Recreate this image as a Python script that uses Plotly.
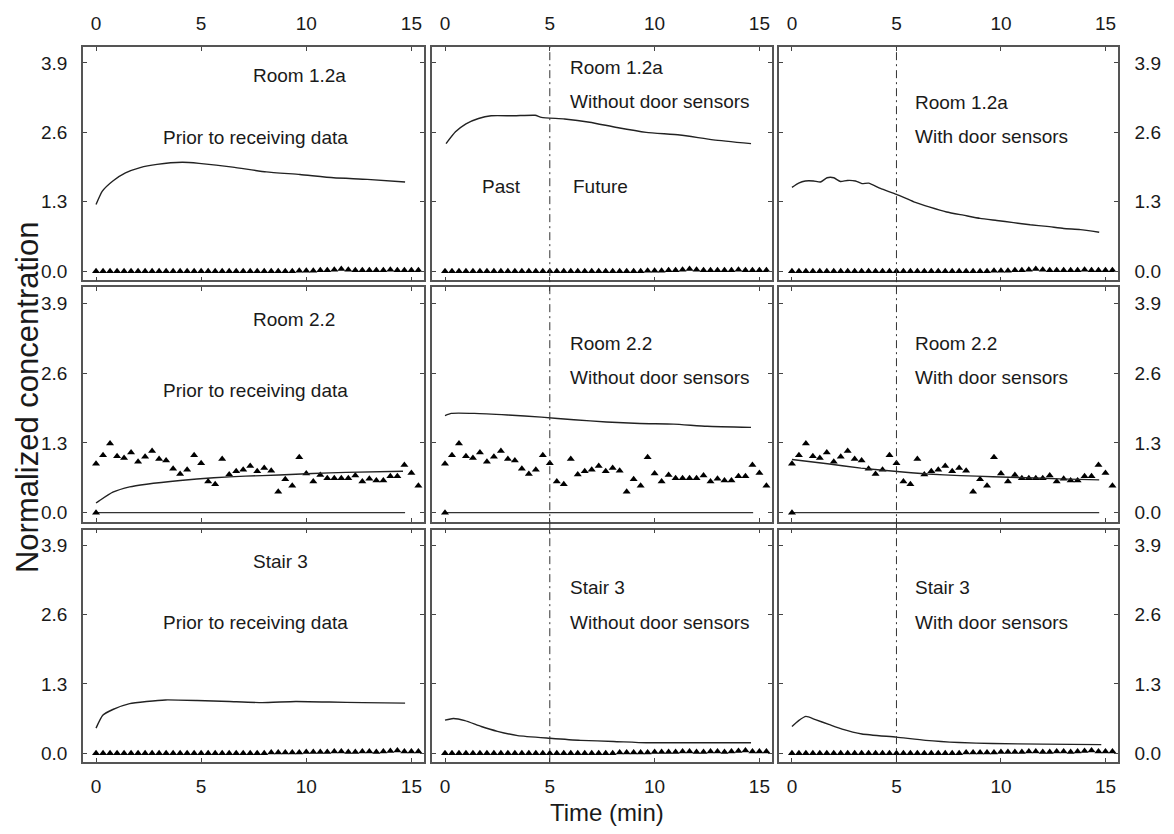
import plotly.graph_objects as go

# ---------------- data ----------------
SAMPLE_STEP = 1.0 / 3.0
N_SAMPLES = 47
SENSOR_T = [round(k * SAMPLE_STEP, 4) for k in range(N_SAMPLES)]

ROOM12A_SENSOR = [0.00, 0.00, 0.00, 0.00, 0.00, 0.00, 0.00, 0.00, 0.00, 0.00,
                  0.00, 0.00, 0.00, 0.00, 0.00, 0.00, 0.00, 0.00, 0.00, 0.00,
                  0.00, 0.00, 0.00, 0.00, 0.00, 0.00, 0.00, 0.00, 0.00, 0.01,
                  0.01, 0.01, 0.02, 0.02, 0.03, 0.04, 0.03, 0.02, 0.02, 0.02,
                  0.02, 0.02, 0.03, 0.02, 0.02, 0.02, 0.02]
STAIR3_SENSOR = [0.00, 0.00, 0.00, 0.00, 0.00, 0.00, 0.00, 0.00, 0.00, 0.00,
                 0.00, 0.00, 0.00, 0.00, 0.00, 0.00, 0.00, 0.00, 0.00, 0.00,
                 0.00, 0.00, 0.00, 0.00, 0.00, 0.01, 0.01, 0.01, 0.01, 0.01,
                 0.02, 0.02, 0.02, 0.02, 0.03, 0.03, 0.02, 0.02, 0.03, 0.03,
                 0.02, 0.03, 0.04, 0.05, 0.03, 0.03, 0.03]
ROOM22_SENSOR_T = [0.0] + SENSOR_T
ROOM22_SENSOR = [0.00,
                 0.91, 1.07, 1.29, 1.05, 1.02, 1.12, 0.95, 1.04, 1.15, 1.00,
                 0.97, 0.82, 0.72, 0.80, 1.07, 0.92, 0.58, 0.53, 1.00, 0.71,
                 0.77, 0.80, 0.87, 0.77, 0.83, 0.78, 0.39, 0.62, 0.50, 1.03,
                 0.73, 0.58, 0.70, 0.64, 0.64, 0.64, 0.64, 0.69, 0.58, 0.63,
                 0.60, 0.60, 0.68, 0.68, 0.89, 0.74, 0.50]

R12A_PRIOR_T = [0, 0.3, 0.8, 1.4, 2.1, 2.9, 4.1, 4.9, 6.5, 8.1, 9.7, 11.3, 12.9, 14.7]
R12A_PRIOR_Y = [1.25, 1.50, 1.69, 1.84, 1.94, 2.00, 2.04, 2.02, 1.95, 1.86, 1.81, 1.75, 1.72, 1.67]
R12A_NODOOR_T = [0.05, 0.5, 1.0, 1.6, 2.2, 3.3, 4.3, 4.6, 5.7, 6.9, 8.2, 9.6, 11.2, 12.8, 14.6]
R12A_NODOOR_Y = [2.39, 2.61, 2.76, 2.86, 2.91, 2.91, 2.92, 2.88, 2.85, 2.79, 2.69, 2.60, 2.55, 2.46, 2.39]
R12A_DOOR_T = [0, 0.32, 0.64, 1.04, 1.36, 1.68, 2.0, 2.32, 2.64, 3.04, 3.35, 3.67, 4.23,
               5.0, 5.83, 6.6, 7.4, 8.2, 9.0, 9.8, 10.6, 11.4, 12.2, 13.0, 13.8, 14.7]
R12A_DOOR_Y = [1.57, 1.65, 1.69, 1.69, 1.67, 1.75, 1.75, 1.68, 1.70, 1.69, 1.64, 1.65, 1.55,
               1.44, 1.30, 1.20, 1.11, 1.05, 0.99, 0.95, 0.91, 0.87, 0.84, 0.80, 0.78, 0.73]

R22_PRIOR_T = [0, 0.15, 0.8, 1.6, 2.4, 4.0, 5.6, 7.1, 8.7, 10.3, 11.9, 14.6]
R22_PRIOR_Y = [0.18, 0.22, 0.38, 0.48, 0.53, 0.60, 0.65, 0.68, 0.70, 0.73, 0.75, 0.77]
R22_NODOOR_T = [0, 0.3, 1.4, 3.0, 4.6, 6.15, 7.7, 9.3, 10.9, 12.5, 14.6]
R22_NODOOR_Y = [1.81, 1.85, 1.85, 1.82, 1.78, 1.73, 1.69, 1.66, 1.65, 1.61, 1.59]
R22_DOOR_T = [0, 1.7, 3.3, 4.9, 6.5, 8.05, 9.6, 11.2, 12.8, 14.7]
R22_DOOR_Y = [0.99, 0.91, 0.83, 0.77, 0.72, 0.69, 0.67, 0.65, 0.63, 0.61]
R22_BASE_T = [0, 14.7]
R22_BASE_Y = [0.0, 0.0]

S3_PRIOR_T = [0, 0.32, 0.8, 1.6, 2.4, 3.3, 4.8, 6.35, 7.9, 9.5, 11.1, 12.7, 14.7]
S3_PRIOR_Y = [0.47, 0.71, 0.82, 0.93, 0.97, 1.00, 0.99, 0.97, 0.95, 0.97, 0.96, 0.95, 0.94]
S3_NODOOR_T = [0, 0.4, 0.95, 1.73, 2.5, 3.47, 5.0, 6.47, 8.04, 9.6, 12.0, 14.6]
S3_NODOOR_Y = [0.62, 0.65, 0.61, 0.50, 0.41, 0.33, 0.28, 0.24, 0.22, 0.195, 0.195, 0.195]
S3_DOOR_T = [0, 0.32, 0.67, 1.12, 1.76, 2.4, 3.35, 5.0, 6.4, 8.0, 9.6, 12.0, 14.8]
S3_DOOR_Y = [0.50, 0.61, 0.69, 0.63, 0.54, 0.45, 0.36, 0.30, 0.24, 0.20, 0.18, 0.17, 0.16]

PAST_FUTURE_SPLIT = 5
X_TICKS = [0, 5, 10, 15]
Y_TICKS = [0.0, 1.3, 2.6, 3.9]
Y_TICK_TEXT = ["0.0", "1.3", "2.6", "3.9"]

ROOM_NAMES = ["Room 1.2a", "Room 2.2", "Stair 3"]
CASE_NAMES = ["Prior to receiving data", "Without door sensors", "With door sensors"]

# ---------------- layout geometry ----------------
W, H = 1174, 834
COL_PX = [(83, 424), (432, 772), (779, 1118)]
ROW_PX = [(47, 281), (288, 523), (531, 764)]
X_RANGE = [-0.62, 15.6]
Y_RANGE = [-0.17, 4.2]
FONT = "Liberation Sans, Arial, sans-serif"
TXT = "#1a1a1a"

fig = go.Figure()

curves = [
    [(R12A_PRIOR_T, R12A_PRIOR_Y), (R12A_NODOOR_T, R12A_NODOOR_Y), (R12A_DOOR_T, R12A_DOOR_Y)],
    [(R22_PRIOR_T, R22_PRIOR_Y), (R22_NODOOR_T, R22_NODOOR_Y), (R22_DOOR_T, R22_DOOR_Y)],
    [(S3_PRIOR_T, S3_PRIOR_Y), (S3_NODOOR_T, S3_NODOOR_Y), (S3_DOOR_T, S3_DOOR_Y)],
]
sensors = [(SENSOR_T, ROOM12A_SENSOR), (ROOM22_SENSOR_T, ROOM22_SENSOR), (SENSOR_T, STAIR3_SENSOR)]

axis_common = dict(showgrid=False, zeroline=False, showline=True, mirror="ticks",
                   linecolor="#555555", linewidth=1.5, ticks="inside", ticklen=4,
                   tickwidth=1, tickcolor="#444444",
                   tickfont=dict(family=FONT, size=19, color=TXT))

for r in range(3):
    for c in range(3):
        i = r * 3 + c + 1
        xa = "x" if i == 1 else f"x{i}"
        ya = "y" if i == 1 else f"y{i}"
        if r == 1:
            fig.add_trace(go.Scatter(x=R22_BASE_T, y=R22_BASE_Y, mode="lines",
                                     line=dict(color="#333333", width=1.2),
                                     xaxis=xa, yaxis=ya, showlegend=False))
        st, sy = sensors[r]
        fig.add_trace(go.Scatter(x=st, y=sy, mode="markers",
                                 marker=dict(symbol="triangle-up", size=7, color="black"),
                                 xaxis=xa, yaxis=ya, showlegend=False))
        ct, cy = curves[r][c]
        fig.add_trace(go.Scatter(x=ct, y=cy, mode="lines",
                                 line=dict(color="#222222", width=1.4, shape="spline", smoothing=0.5),
                                 xaxis=xa, yaxis=ya, showlegend=False))

        x0, x1 = COL_PX[c]
        y0, y1 = ROW_PX[r]
        xkey = "xaxis" if i == 1 else f"xaxis{i}"
        ykey = "yaxis" if i == 1 else f"yaxis{i}"
        xcfg = dict(axis_common, domain=[x0 / W, x1 / W], range=X_RANGE,
                    tickvals=X_TICKS, anchor=ya)
        if r == 0:
            xcfg.update(side="top", showticklabels=True, ticklabelstandoff=8)
        elif r == 2:
            xcfg.update(side="bottom", showticklabels=True, ticklabelstandoff=6)
        else:
            xcfg.update(showticklabels=False)
        ycfg = dict(axis_common, domain=[1 - y1 / H, 1 - y0 / H], range=Y_RANGE,
                    tickvals=Y_TICKS, ticktext=Y_TICK_TEXT, anchor=xa)
        if c == 0:
            ycfg.update(side="left", showticklabels=True, ticklabelstandoff=10)
        elif c == 2:
            ycfg.update(side="right", showticklabels=True, ticklabelstandoff=11)
        else:
            ycfg.update(showticklabels=False)
        fig.update_layout(**{xkey: xcfg, ykey: ycfg})

# past/future split lines
for c in (1, 2):
    xref = f"x{c + 1}"
    fig.add_shape(type="line", xref=xref, yref="paper",
                  x0=PAST_FUTURE_SPLIT, x1=PAST_FUTURE_SPLIT,
                  y0=1 - ROW_PX[2][1] / H, y1=1 - ROW_PX[0][0] / H,
                  line=dict(color="#333333", width=1, dash="8px,4px,2px,4px"))

# annotations
ann = []
afont = dict(family=FONT, size=19, color=TXT)
room_y = {0: [(3.66, 2.50), (3.82, 3.17), (3.15, 2.52)],
          1: [(3.60, 2.28), (3.15, 2.51), (3.15, 2.51)],
          2: [(3.61, 2.45), (3.11, 2.45), (3.11, 2.45)]}
for r in range(3):
    for c in range(3):
        i = r * 3 + c + 1
        xa = "x" if i == 1 else f"x{i}"
        ya = "y" if i == 1 else f"y{i}"
        ry, cy = room_y[r][c]
        if c == 0:
            ann.append(dict(x=7.38, y=ry, xref=xa, yref=ya, text=ROOM_NAMES[r],
                            showarrow=False, xanchor="left", yanchor="middle", font=afont))
            ann.append(dict(x=7.57, y=cy, xref=xa, yref=ya, text=CASE_NAMES[0],
                            showarrow=False, xanchor="center", yanchor="middle", font=afont))
        else:
            lx = 5.86 if c == 1 else 5.78
            ann.append(dict(x=lx, y=ry, xref=xa, yref=ya, text=ROOM_NAMES[r],
                            showarrow=False, xanchor="left", yanchor="middle", font=afont))
            ann.append(dict(x=lx, y=cy, xref=xa, yref=ya, text=CASE_NAMES[c],
                            showarrow=False, xanchor="left", yanchor="middle", font=afont))
ann.append(dict(x=2.7, y=1.59, xref="x2", yref="y2", text="Past", showarrow=False,
                xanchor="center", yanchor="middle", font=afont))
ann.append(dict(x=7.4, y=1.59, xref="x2", yref="y2", text="Future", showarrow=False,
                xanchor="center", yanchor="middle", font=afont))
ann.append(dict(x=27 / W, y=1 - 398 / H, xref="paper", yref="paper",
                text="Normalized concentration", textangle=-90, showarrow=False,
                xanchor="center", yanchor="middle",
                font=dict(family=FONT, size=31, color=TXT)))
ann.append(dict(x=607 / W, y=1 - 814 / H, xref="paper", yref="paper",
                text="Time (min)", showarrow=False, xanchor="center", yanchor="middle",
                font=dict(family=FONT, size=24, color=TXT)))

fig.update_layout(width=W, height=H, margin=dict(l=0, r=0, t=0, b=0),
                  paper_bgcolor="white", plot_bgcolor="white",
                  annotations=ann, showlegend=False)

fig.write_html("out.html")
